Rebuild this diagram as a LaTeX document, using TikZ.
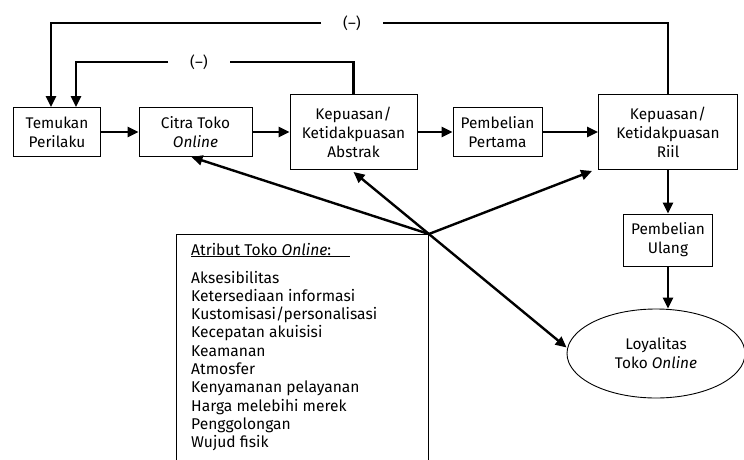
\documentclass[tikz,border=0pt]{standalone}
\usepackage{fontspec}
\setmainfont{Fira Sans}
\usetikzlibrary{arrows.meta,shapes.geometric}
\tikzset{
    x=1pt,
    y=1pt,
    kotak/.style={draw,line width=0.9pt,align=center,inner sep=0pt,
        font=\fontsize{15.4}{19}\selectfont},
    panah/.style={line width=2.4pt,-{Triangle[length=11pt,width=10pt]}},
    garis/.style={line width=2.4pt},
    tanda/.style={inner xsep=22pt,inner ysep=0pt,font=\fontsize{15}{17}\selectfont},
    isi/.style={anchor=base west,inner sep=0pt,font=\fontsize{15.6}{18}\selectfont},
}
\newcommand{\online}{\textit{Online}}
\begin{document}
\begin{tikzpicture}
    \useasboundingbox (0,0) rectangle (744,459);
    % kotak utama
    \node[kotak,minimum width=87,minimum height=49] (temukan)
        at (57,327) {Temukan\\Perilaku};
    \node[kotak,minimum width=113,minimum height=49] (citra)
        at (195.5,327) {Citra Toko\\\online};
    \node[kotak,minimum width=127,minimum height=75] (abstrak)
        at (353.5,327) {Kepuasan/\\Ketidakpuasan\\Abstrak};
    \node[kotak,minimum width=89,minimum height=49] (pertama)
        at (497.5,327) {Pembelian\\Pertama};
    \node[kotak,minimum width=139,minimum height=75] (riil)
        at (668,327) {Kepuasan/\\Ketidakpuasan\\Riil};
    \node[kotak,minimum width=89,minimum height=52] (ulang)
        at (668,219) {Pembelian\\Ulang};
    \node[kotak,ellipse,minimum width=178,minimum height=89] (loyal)
        at (656,105.5) {Loyalitas\\Toko \online};
    % atribut
    \node[draw,line width=0.9pt,minimum width=252,minimum height=250,
        anchor=north west] (atribut) at (176,225) {};
    \node[isi] (judul) at (191,204)
        {\underline{Atribut Toko \online:\hspace{1.2em}}};
    \foreach \teks [count=\i] in {Aksesibilitas,Ketersediaan informasi,
        Kustomisasi/personalisasi,Kecepatan akuisisi,Keamanan,Atmosfer,
        Kenyamanan pelayanan,Harga melebihi merek,Penggolongan,Wujud fisik}
        \node[isi] (item\i) at (191,{176-(\i-1)*18.3}) {\teks};
    \coordinate (hub) at (atribut.north east);
    % umpan balik
    \node[tanda] (fbluar) at (352,436) {(--)};
    \node[tanda] (fbdalam) at (199,397) {(--)};
    \draw[garis] (riil.north) |- (fbluar.east);
    \draw[panah] (fbluar.west) -| ([xshift=-6]temukan.north);
    \draw[garis] (abstrak.north) |- (fbdalam.east);
    \draw[panah] (fbdalam.west) -| ([xshift=19]temukan.north);
    % alur
    \draw[panah] (temukan) -- (citra);
    \draw[panah] (citra) -- (abstrak);
    \draw[panah] (abstrak) -- (pertama);
    \draw[panah] (pertama) -- (riil);
    \draw[panah] (riil) -- (ulang);
    \draw[panah] (ulang.south) -- (ulang.south |- loyal.north);
    \draw[panah] (hub) -- ([xshift=-4]citra.south);
    \draw[panah] (hub) -- ([yshift=-2]abstrak.south);
    \draw[panah] (hub) -- ([xshift=-6,yshift=-1]riil.south west);
    \draw[panah] (hub) -- ([yshift=6]loyal.west);
\end{tikzpicture}
\end{document}
